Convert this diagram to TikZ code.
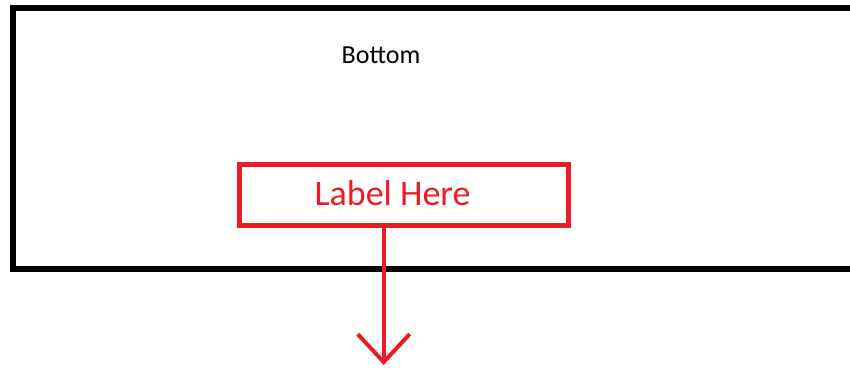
\documentclass[tikz,border=0pt]{standalone}
\usepackage{fontspec}
\setmainfont{Carlito}
\usetikzlibrary{arrows.meta}
\definecolor{paintred}{RGB}{237,28,36}
\tikzset{
  frame/.style={draw=black, line width=5.5pt},
  redbox/.style={draw=paintred, line width=5pt, minimum width=329pt, minimum height=61.5pt, inner sep=0pt},
  redarrow/.style={draw=paintred, line width=4pt, -{Straight Barb[length=28pt,width=52pt,line width=4pt]}},
  txt/.style={inner sep=0pt, anchor=base}
}
\begin{document}
\begin{tikzpicture}[x=1pt,y=-1pt]
\useasboundingbox (0,0) rectangle (850,369);
\clip (0,0) rectangle (850,369);
\fill[white] (0,0) rectangle (850,369);
\draw[frame] (880,8) -- (13,8) -- (13,269) -- (880,269);
\node[txt, font=\fontsize{26}{30}\selectfont, text=black] (bottom) at (381,63.3) {Bottom};
\node[redbox] (box) at (404.3,195.2) {};
\node[txt, font=\fontsize{36}{40}\selectfont, text=paintred] (lbl) at (392.5,205) {Label Here};
\coordinate (tip) at (383.7,365);
\draw[redarrow] (box.south -| tip) -- (tip);
\end{tikzpicture}
\end{document}
